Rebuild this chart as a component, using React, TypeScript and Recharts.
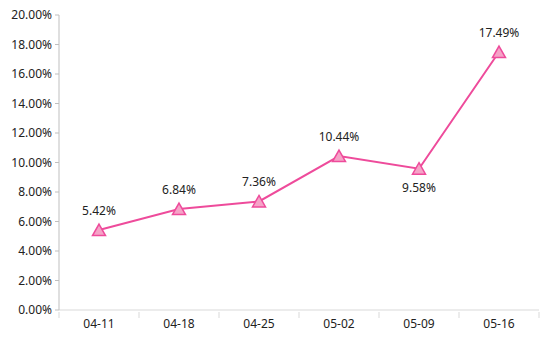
import { LineChart, Line, XAxis, YAxis, LabelList } from 'recharts';

const dates = ['04-11', '04-18', '04-25', '05-02', '05-09', '05-16'];
const rates = [5.42, 6.84, 7.36, 10.44, 9.58, 17.49];
const yTicks = [0, 2, 4, 6, 8, 10, 12, 14, 16, 18, 20];

const data = dates.map((d, i) => ({ date: d, rate: rates[i] }));

const PINK = '#EE4B9B';
const FONT = '"Noto Sans", sans-serif';

const Triangle = (props: any) => {
  const { cx, cy } = props;
  if (cx == null || cy == null) return null;
  return (
    <path
      d={`M${cx},${cy - 6} L${cx + 6.5},${cy + 5.5} L${cx - 6.5},${cy + 5.5} Z`}
      fill="#F5A3C7"
      stroke={PINK}
      strokeWidth={1.5}
    />
  );
};

const XTick = (props: any) => {
  const { x, y, payload, index } = props;
  const half = 40;
  const top = y - 6;
  return (
    <g>
      <line x1={x - half} y1={top} x2={x - half} y2={top + 6} stroke="#d9d9d9" />
      {index === dates.length - 1 && (
        <line x1={x + half} y1={top} x2={x + half} y2={top + 6} stroke="#d9d9d9" />
      )}
      <text x={x} y={y + 10} textAnchor="middle" fill="#222" fontSize={12} fontFamily={FONT}>
        {payload.value}
      </text>
    </g>
  );
};

const PointLabel = (props: any) => {
  const { x, y, value, index } = props;
  const below = index === 4;
  return (
    <text
      x={x}
      y={below ? y + 23 : y - 15}
      textAnchor="middle"
      fill="#222"
      fontSize={12}
      fontFamily={FONT}
    >
      {`${Number(value).toFixed(2)}%`}
    </text>
  );
};

const App = () => {
  return (
    <div style={{ position: 'absolute', left: 0, top: 0, background: '#fff' }}>
      <LineChart width={554} height={352} data={data} margin={{ top: 15, right: 15, bottom: 12, left: 0 }}>
        <XAxis
          dataKey="date"
          scale="band"
          stroke="#d9d9d9"
          tickLine={false}
          tick={<XTick />}
          height={30}
          interval={0}
        />
        <YAxis
          width={59}
          domain={[0, 20]}
          ticks={yTicks}
          interval={0}
          stroke="#bfbfbf"
          tickSize={4}
          tickMargin={3}
          tick={{ fill: '#222', fontSize: 12, fontFamily: FONT }}
          tickFormatter={(v) => `${v.toFixed(2)}%`}
        />
        <Line
          dataKey="rate"
          stroke={PINK}
          strokeWidth={2}
          dot={<Triangle />}
          activeDot={false}
          isAnimationActive={false}
        >
          <LabelList dataKey="rate" content={<PointLabel />} />
        </Line>
      </LineChart>
    </div>
  );
};

export default App;
